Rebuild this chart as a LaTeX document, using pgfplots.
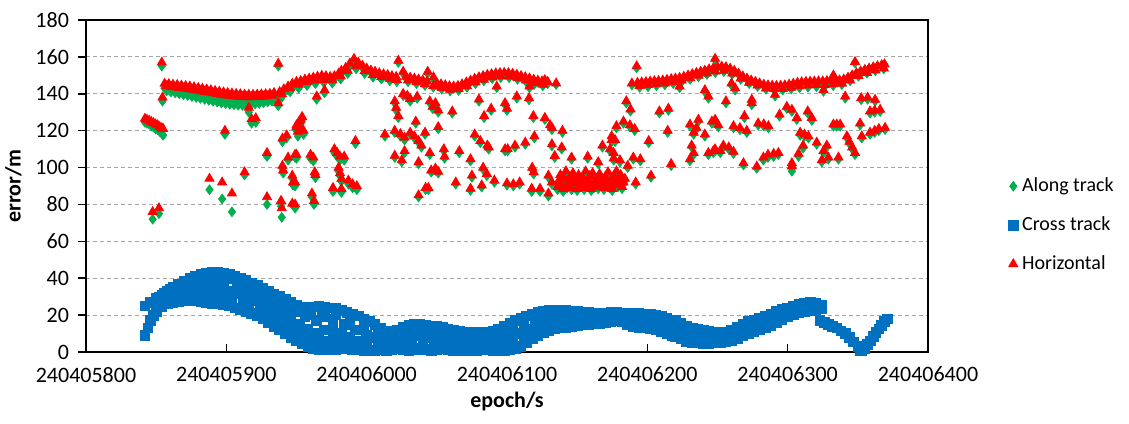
\documentclass[border=0pt]{standalone}
\usepackage{pgfplots}
\pgfplotsset{compat=1.18}
\usepackage{pgfplotstable}
\usepackage{fontspec}
\setmainfont{Carlito}
\definecolor{cgreen}{HTML}{00B050}
\definecolor{cblue}{HTML}{0070C0}
\definecolor{cred}{HTML}{FF0000}

% x = epoch - 240405800 ; a = along track ; h = horizontal
\pgfplotstableread{
x a h
42 124.5 126.5
43.5 124 126
45 123.5 125.5
46.5 122.5 124.8
48 122 124.2
49.5 121 123.5
51 120.5 123
52.5 119.5 122
54 118.5 121.5
55 117.5 121
54 155 157
54.5 136 138
47.5 72 76
52 75 78
56 143 145.5
59 142.5 145.3
62 142 145
65 141.5 144.8
68 141 144.5
71 140.5 144.3
74 140 144
77 139.5 143.6
80 139 143.2
83 138.5 142.8
86 138 142.4
89 137.5 142
92 137 141.6
95 136.5 141.2
98 136.2 140.8
101 135.8 140.5
104 135.5 140.2
107 135.2 140
110 135 139.8
113 135 139.6
116 135.3 139.5
119 135.6 139.5
122 136 139.6
125 136.3 139.7
128 136.6 139.8
131 137 140
134 137.5 140.5
57.5 141.5 144.2
60.5 141 143.8
63.5 140.5 143.5
66.5 140 143.2
69.5 139.5 142.9
72.5 139 142.6
75.5 138.5 142.3
78.5 138 141.9
81.5 137.5 141.5
84.5 137 141.1
87.5 136.5 140.7
90.5 136 140.3
93.5 135.5 139.9
96.5 135 139.5
99.5 134.6 139.2
102.5 134.3 138.9
105.5 134 138.6
108.5 133.8 138.4
111.5 133.7 138.3
114.5 133.8 138.2
117.5 134.1 138.2
120.5 134.5 138.3
123.5 134.8 138.4
126.5 135.2 138.5
129.5 135.6 138.7
132.5 136 139
116 130 132.5
118 124 126.3
121 124.5 126.8
99 118 120
137 155 156.4
137 133.5 135
129 106 108
113 96 97.5
140 114 115.8
143 116 117.5
144 104 105.5
149 105.5 107
140 99.5 101
140.5 97 98.5
147 94 95.7
147.5 90.5 92
88 88 94
97 83 92
104 76 86
129 80 84
139 79 82
139.5 73 78
147 80 80.5
150 120 122
152 123 125
153 119 121
138 139 141
141 140.5 142.5
144 142 144
147 143.5 145.5
150 144.5 146.5
153 145 147
156 146 147.8
159 146.5 148.3
162 147 148.8
165 147.5 149.3
168 148 149.8
171 148 149.6
174 147.5 149.2
177 148 149.6
180 149.5 151
164.4 137 138.6
170 140.5 142
139.5 138 140
145.5 141 143
151.5 143 145
157.5 144.5 146.3
163.5 145.5 147.2
169.5 146 147.6
175.5 145.8 147.4
181.5 148 149.6
182 151 152.5
185 152.5 154
188 155 156.5
191 157.5 159
194 155.5 157
197 154 155.3
200 152.5 153.8
203 151.5 152.7
206 150.8 152
209 150 151.2
212 149.5 150.6
215 149 150.2
218 148.5 149.6
221 148.2 149.2
222.6 157 158
226 151 152
228 148.5 149.3
231 148 148.8
234 147.5 148.3
237 147 147.8
240 146.5 147.3
243 146 146.8
243.5 151 152
247.6 148 149
250 145 145.8
253 144.5 145.2
256 144 144.7
259 143.5 144.2
262 143.2 144
265 143.5 144.3
268 144.5 145.2
271 145.5 146.2
274 146.5 147.2
277 147.5 148.2
280 148.3 149
283 149 149.7
286 149.6 150.3
289 150 150.7
292 150.4 151.1
292.7 143.3 144
295 150.6 151.3
298 150.7 151.4
301 150.6 151.3
304 150.2 150.9
307 149.7 150.4
310 149 149.7
313 148.3 149
316 147.7 148.4
316 143.3 144
319 147 147.7
322 146.5 147.2
325 146 146.8
327 146.5 147.5
329 145.5 146.5
335 145 145.7
186.5 151 152.5
192.5 153.5 155
198.5 151 152.3
204.5 149 150.3
210.5 148 149.2
216.5 147 148.2
221.5 146.5 147.5
229.5 146.5 147.3
235.5 145.5 146.3
241.5 144.5 145.3
247.5 143.5 144.3
253.5 142.5 143.2
259.5 141.5 142.2
265.5 141.8 142.5
271.5 143.5 144.2
277.5 145.5 146.2
283.5 147 147.7
289.5 148.2 148.9
295.5 148.8 149.5
301.5 148.7 149.4
307.5 147.8 148.5
313.5 146.5 147.2
319.5 145.2 145.9
325.5 144.3 145
389 144.8 145.7
392.4 154 155
393 145 146
396 145.3 146.2
399 145.5 146.4
402 145.8 146.7
405 146 146.9
408 146.2 147
411 146.5 147.3
414 146.8 147.6
417 147.2 148
420 147.6 148.3
423 143.3 144
423 148 148.7
426 148.6 149.3
429 149.3 150
432 150 150.7
435 150.7 151.4
438 151.4 152
441 152 152.6
444 152.7 153.3
447 153.3 153.9
448.3 158.3 159
450 154 154.6
453 154.2 154.8
456 154 154.5
459 153.2 153.7
462 152 152.5
465 150.5 151
468 149 149.5
471 147.8 148.3
474 146.8 147.3
477 146 146.5
480 145.2 145.7
483 144.6 145
486 144.2 144.6
489 144 144.4
491 138.8 139.5
492 143.8 144.3
495 143.8 144.4
498 144 144.6
501 144.3 145
504 144.6 145.5
507 145 146
510 145.3 146.3
513 145.5 146.5
516 145.6 146.6
519 145.7 146.7
522 145.8 146.8
525 146 146.8
525.5 141.3 142
528 146.2 147
531 146.5 147.3
532.6 149.3 150
534 146.5 147
537 147 147.3
538.6 145 145.7
540 147.5 147.8
543 148.5 148.8
546 149.8 150
548 156.7 157.3
549 151 151.2
552 152 152.2
555 152.8 153
558 153.6 153.7
561 154.2 154.4
564 154.8 155
567 155.3 155.6
569 155.7 156
394.5 143.5 144.3
400.5 143.8 144.7
406.5 144.3 145.2
412.5 144.8 145.6
418.5 145.5 146.3
424.5 146.5 147.2
430.5 147.8 148.5
436.5 149.2 149.9
442.5 150.5 151.1
448.5 151.5 152.1
454.5 152 152.5
460.5 150.5 151
466.5 147.8 148.3
472.5 145.5 146
478.5 144 144.5
484.5 142.5 142.9
490.5 142 142.5
496.5 142 142.6
502.5 142.6 143.3
508.5 143.2 144.1
514.5 143.6 144.5
520.5 143.8 144.8
526.5 144 144.8
532.5 144.4 145.2
538.5 145.2 145.6
544.5 147 147.3
550.5 149.5 149.7
556.5 151.2 151.4
562.5 152.5 152.7
568.5 153.5 153.8
150 121 123
151 117 119.5
153 124 126
154 126 127.5
155 118 120
150 105 107
149 90 92
149 78 80
160 105 107
162 103.5 105.5
163 96 97.5
163.5 94.5 96
161 84 86
162.5 80 82
177 108 110
179 106 108
181 104 106
184 104 106
180 98 100
181 95.5 97
182 92.5 94
176 87 89
182 86.5 88.5
187 91 93
190 89 91
193 88 90
192 113 114.5
213 117 118
220 135 136
221 131 132.5
222.6 127 128
220 119 120
224 117 118.3
227 115 116.3
220 105.5 106.5
225 103 104
227 108 109
226 139 140
229 138 139
231 136 137.2
236 137.5 138.5
231 118 119
234 116 117
237 113.5 114.5
239 111 112
235 124 125
237 102 103
237 84 85
242 88 89
244 88 89
241.6 118 119
245 107 108
246 97.5 98.5
249 98.5 99.5
251 97 97.8
245 135 136
247 132 133
249 134 135
251 130 131
251 121 122
255 109 110
255.5 105 106
261 129.5 130.5
263.5 91 92
266 108 109
274 103.6 104.6
274 87.6 88.6
275 94.7 95.7
277 117 118
280 136 137
281 113.5 114.5
282 89.4 90.4
283 99 100
285.6 95.6 96.6
283.7 127 128
286 111 112
287 110 111
288.7 131 132
291 92 93
298.6 109 110
298.6 134 135
300 90.5 91.5
307 137.6 138.6
315.7 136.7 137.7
300 131 132
318.8 127 128
327 126 127
330.7 122 123
332 120.5 121.6
339.5 119 120
319.5 116 117
313 112.6 113.6
305.7 111 112
300.5 109 110
332 111.7 112.7
334 105.4 106.4
339 110 111
318 99 100
319 96.5 97.5
304.5 90 91
309 91 92
317.6 87 88.6
323.5 87 88.6
329.5 84.5 86
329.5 94.7 95.7
332 91 92
336 88 89.5
337 92 93
338 95 96
339 90 91
340 87 88.5
341 93 94
342 97 98
343 89 90
344 91.5 92.5
345 94 95
346 88 89
347 96 97
348 90.5 91.5
349 92.5 93.5
350 87.5 88.5
351 95 96
352 89.5 90.5
353 91 92
354 93.5 94.5
355 88 89
356 97 98
357 90 91
358 92 93
359 94.5 95.5
360 87.5 88.5
361 96 97
362 89 90
363 91.5 92.5
364 93 94
365 88.5 89.5
366 95.5 96.5
367 90 91
368 92.5 93.5
369 88 89
370 94 95
371 91 92
372 96.5 97.5
373 89 90
374 92 93
375 87.5 88.5
376 94.5 95.5
377 90.5 91.5
378 97 98
379 89.5 90.5
380 92 93
381 95 96
382 88.5 89.5
383 91 92
384 93 94
346 104.5 105.5
357.5 105 106
365 102 103
368 111 112
374.6 116 117
374.6 114 115
377 114 115
373.4 109 110
376 107 108
376 104 105
378 121.5 122.5
383 124 125
380.5 103 104
386 100 101
385 135 136
388 130.6 131.6
387.6 122 123
391 120 121
390 104.5 105.5
395 103.6 104.6
391.7 91 92
401 113.5 114.5
402.6 94.7 95.7
408.6 129.5 130.5
415 131 132
414.5 119 120
417 101 102
430.4 122.5 123.4
433 118 119
436.4 125 126
435 120.6 121.6
441 117 118
441 141 142
443.5 137.6 138.6
431.6 111 112
433 107 108
430.4 103.6 104.6
443.5 107 108
447 108 109
452 108 109
446 124 125
450.6 122 123
460 144.7 145.7
462.6 142 143
456 135 136
474.4 135.8 136.8
474.4 134 135
469.2 127 128
448.3 125 126
461.4 121.5 122.5
466 120.5 121.5
470.9 119 120
479 123 124
483 122.5 123.5
486.3 121.5 122.5
494.2 127.8 128.8
499.4 132 133
503 130.4 131.4
506.5 126 127
514.3 129.5 130.5
517.2 125.5 127
508.9 117.5 119
512 117 118
514.8 116 117
511 110.5 112
507.7 106 107.6
503 100.5 102.4
520.7 112.6 113.6
527.9 111 112
525.5 108 109
529 104.5 105.5
524.3 103 104
532.6 122.4 123.4
535 122.4 123.4
537.4 122.4 123.4
536.2 104.5 105.5
542.2 116 117
544 113 114
546 110 111
548 107 108
541 137.6 138.6
552.4 136.8 137.7
557 137 138
562.3 136 136.8
558.7 129.5 130.5
562 130 131
565.9 130.4 131.4
551.6 123 124
552.8 116 117
558.7 118 119
562 119 120
565 120 121
569.4 120.6 121.6
448.3 109 110
454.2 111 112
458 110 111
461.4 107.6 108.6
468.5 101.4 102.4
478 99.6 100.6
482.7 104 105.5
486 105.5 107
490 106 107.5
493.4 107 108
503 98 100.6
}\ahtable

% x = epoch - 240405800 ; c = cross track
\pgfplotstableread{
x c
42 25
46 27
50 29
54 31
58 33
62 35
66 37
70 38.5
74 40
78 41
82 42
86 42.5
90 43
94 43
98 42.5
102 42
106 41
110 40
114 39
118 37.5
122 36
126 34.5
130 33
134 31.5
138 30
142 28.5
146 27
150 25.5
154 24.5
158 24
162 24.5
166 25
170 24.5
174 24
178 23.5
182 22.5
186 21.5
190 20.5
194 19.5
198 18
202 16.5
42 9
44 13
46 17
48 20
50 22
54 24.5
58 26
62 27
66 27.5
70 28
74 28
78 28
82 27.5
86 27
90 26.5
94 26
98 25.5
102 25
106 24
110 23
114 22
118 21
122 19.5
126 18
130 16
134 14
138 12
142 10
146 8
150 6
154 4.5
158 3
162 2
166 1.5
170 1.5
174 1.5
178 1.5
182 2
186 2
190 1.5
194 1.5
198 1
202 1
50 25
56 29
62 31.5
68 33
74 34.5
80 35
86 35
92 35
98 34
104 33
110 31.5
116 30
122 28
128 25.5
134 23
140 20.5
146 18
152 15
158 12.5
164 10
170 12
176 14
182 10
188 8
194 6
200 5
56 32
64 35
72 37
84 39
96 39
108 36.5
120 32
132 28
144 23.5
156 19
164 17
170 19
176 18
184 15
192 12
200 9
60 29.5
70 31
80 31.5
92 30.5
104 29
116 26
128 21.5
140 16
150 11
160 7
170 6
180 6
190 5
200 4
52 29.5
60 34
68 36.5
78 39.5
90 41
102 40
114 36
126 31
138 26.5
150 22
160 20.5
168 21.5
178 20.5
188 17.5
198 13.5
54 27
66 31.5
76 33
88 33
100 31.5
112 29
124 25
136 20
146 15
156 11
166 8.5
176 9
186 7
196 5.5
64 28.5
76 29.5
88 28.5
100 27
112 25
124 22.5
134 18
144 12.5
154 8
164 4.5
174 3.5
184 4
194 3
206 15
210 13
214 11.5
218 11
222 12
226 13.5
230 14.5
234 15
238 15
242 14.5
246 14
250 14
254 13.5
258 12.5
262 12
266 11.5
270 11
274 10.5
278 10.5
282 10.5
286 11
290 11.5
294 12.5
298 14
302 15.5
306 17
310 18.5
314 19.5
318 20.5
322 21.5
326 22
330 22.5
334 22.5
338 22.5
342 22.5
346 22
350 22
354 21.5
358 21.5
362 21
366 21
370 21
374 21.5
378 21.5
382 21
386 21
390 21
394 21
398 20.5
402 20.5
406 20
410 19.5
414 18.5
418 17.5
206 1
210 1.5
214 1
218 1.5
222 2
226 1.5
230 1
234 1.5
238 2
242 1.5
246 1
250 1.5
254 2
258 1.5
262 1
266 1
270 1.5
274 1
278 1
282 1.5
286 1.5
290 1
294 1
298 1
302 1.5
306 2
310 3
314 5
318 7
322 9
326 10.5
330 11.5
334 12.5
338 13
342 13.5
346 14
350 14.5
354 15
358 15
362 15.5
366 15.5
370 16
374 16.5
378 17
382 16.5
386 15
390 14
394 13.5
398 13
402 12.5
406 12
410 11
414 10
418 9
206 8
212 6
218 5
224 7
230 8
236 9
242 8
248 7
254 7.5
260 7
266 6
272 5.5
278 5
284 6
290 6
296 7
302 8.5
308 10
314 12.5
320 14.5
326 16
332 17
338 18
344 18.5
350 18
356 18.5
362 18
368 18.5
374 19
380 19
386 18
392 17.5
398 16.5
404 16
410 15
416 13.5
208 11
216 8.5
224 10
232 11.5
240 11.5
248 10.5
256 10
264 9
272 8
280 8
288 8.5
296 10
304 12
312 15.5
320 17.5
328 19
336 20
344 20.5
352 20
360 20
368 20
376 20.5
384 20
392 19.5
400 18.5
408 17.5
416 15.5
208 4.5
216 3.5
224 4
232 4.5
240 5
248 4
256 4.5
264 3.5
272 3
280 3
288 3.5
296 4
304 5
312 8
320 11
328 13
336 15
344 16
352 16.5
360 17
368 17
376 17.5
384 17.5
392 16
400 14.5
408 13.5
416 11.5
420 17
424 15.5
428 14
432 13
436 12.5
440 12
444 11.5
448 11
452 11
456 11
460 12
464 13.5
468 15
472 16.5
476 17.5
480 18.5
484 19.5
488 20.5
492 22
496 23
500 24
504 25
508 26
512 26.5
516 27
520 26.5
524 25.5
420 8.5
424 7
428 5.5
432 5
436 5
440 4.5
444 4.5
448 5
452 5
456 5.5
460 6
464 7.5
468 9
472 10
476 11
480 12
484 13
488 14.5
492 16
496 17.5
500 19
504 20.5
508 21.5
512 22
516 22.5
520 23
524 23.5
422 12
430 9
438 8.5
446 8
454 8
462 9.5
470 12.5
478 15
486 17
494 19.5
502 22
510 24
518 25
426 10.5
434 7
442 6.5
450 6.5
458 7.5
466 11
474 14
482 16.5
490 18.5
498 21
506 23.5
514 25
522 24.5
426 13
434 11
442 10
450 9.5
458 10
466 12
474 15.5
482 18
490 20.5
498 22.5
506 24.5
514 26
522 25
523 17
526 16
529 15
532 14
535 13
538 11.5
541 10
544 8
547 5.5
550 3
552 1
553 0.5
555 2
557 4
559 6
561 8.5
563 10.5
565 12.5
567 14.5
569 16.5
571 18
}\ctable

\begin{document}
\begin{tikzpicture}
\useasboundingbox (-43pt,-35.5pt) rectangle (521.5pt,176pt);
\begin{axis}[
  scale only axis,
  width=421pt, height=166pt,
  xmin=0, xmax=600, ymin=0, ymax=180,
  xtick={0,100,...,600},
  xticklabels={240405800,240405900,240406000,240406100,240406200,240406300,240406400},
  ytick={0,20,...,180},
  xtick pos=left, ytick pos=left,
  xtick align=inside, ytick align=outside,
  major tick length=4pt,
  tick style={black, line width=0.8pt},
  axis line style={black, line width=1pt},
  ymajorgrids,
  major grid style={gray!70, dash pattern=on 2pt off 1.5pt, line width=0.6pt},
  /pgf/number format/assume math mode=true,
  tick label style={font=\fontsize{11}{13}\selectfont},
  yticklabel style={xshift=-1pt},
  xticklabel style={yshift=-4pt},
  xlabel={\textbf{epoch/s}},
  ylabel={\textbf{error/m}},
  label style={font=\fontsize{11}{13}\selectfont},
  xlabel style={yshift=2pt},
  clip=false,
  legend style={at={(rel axis cs:1.088,0.55)}, anchor=north west, draw=none, fill=none,
    font=\fontsize{10}{12}\selectfont, row sep=7pt},
  legend cell align=left,
  legend image code/.code={\draw[mark repeat=2,mark phase=2,#1] plot coordinates {(0cm,0cm) (0.12cm,0cm) (0.24cm,0cm)};},
]
\addplot[only marks, mark=diamond*, mark size=2.4pt, color=cgreen] table[x=x, y=a] {\ahtable};
\addlegendentry{Along track}
\addplot[only marks, mark=square*, mark size=2.4pt, color=cblue] table[x=x, y=c] {\ctable};
\addlegendentry{Cross track}
\addplot[only marks, mark=triangle*, mark size=2.6pt, color=cred] table[x=x, y=h] {\ahtable};
\addlegendentry{Horizontal}
\end{axis}
\end{tikzpicture}
\end{document}
